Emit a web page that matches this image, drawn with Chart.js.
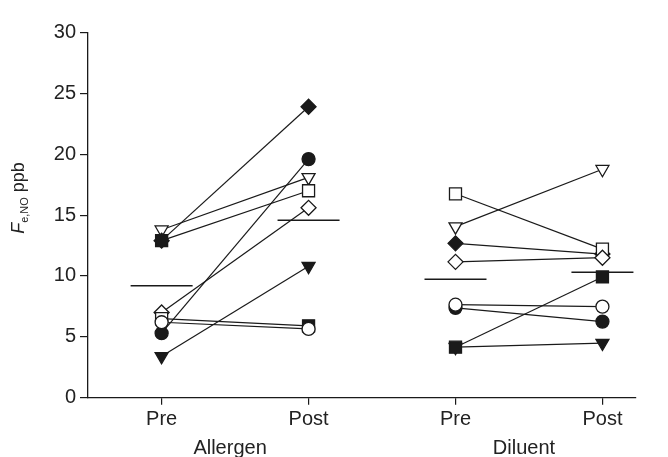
<!DOCTYPE html>
<html>
<head>
<meta charset="utf-8">
<script src="https://cdn.jsdelivr.net/npm/chart.js@4/dist/chart.umd.min.js"></script>
<style>
  html, body { margin: 0; padding: 0; background: #fff; }
  #wrap { width: 668px; height: 457px; }
</style>
</head>
<body>
<div id="wrap"><canvas id="c" width="668" height="457"></canvas></div>
<script>
// ---- data ----
const tickLabels = ['Pre', 'Post', 'Pre', 'Post'];
const groupLabels = ['Allergen', 'Diluent'];
const subjects = ['open circle', 'filled square', 'open diamond', 'open square', 'filled diamond', 'filled circle', 'open down-triangle', 'filled down-triangle'];
const allergenPre  = [6.2, 6.5, 7.0, 12.9, 12.9, 5.3, 13.8, 3.4];
const allergenPost = [5.65, 5.9, 15.6, 17.0, 23.9, 19.6, 18.1, 10.8];
const diluentPre   = [7.64, 4.15, 11.16, 16.75, 12.68, 7.38, 14.05, 4.15];
const diluentPost  = [7.48, 9.92, 11.5, 12.2, 11.8, 6.25, 18.77, 4.49];
const means        = [9.19, 14.57, 9.74, 10.3];
const yTicks       = [0, 5, 10, 15, 20, 25, 30];

// ---- styles ----
const INK = '#1a1a1a';
const TXT = '#222222';
const FONT = "'Liberation Sans', Arial, Helvetica, sans-serif";
const markerStyle = [
  { style: 'circle',   r: 6.5, rot: 0,   fill: ['#fff', '#fff', '#fff', '#fff'] },
  { style: 'rect',     r: 8.5, rot: 0,   fill: ['#fff', INK, INK, INK] },
  { style: 'rectRot',  r: 7.5, rot: 0,   fill: ['#fff', '#fff', '#fff', '#fff'] },
  { style: 'rect',     r: 8.5, rot: 0,   fill: [INK, '#fff', '#fff', '#fff'] },
  { style: 'rectRot',  r: 7.5, rot: 0,   fill: [INK, INK, INK, INK] },
  { style: 'circle',   r: 6.5, rot: 0,   fill: [INK, INK, INK, INK] },
  { style: 'triangle', r: 7.5, rot: 180, fill: ['#fff', '#fff', '#fff', '#fff'] },
  { style: 'triangle', r: 7.5, rot: 180, fill: [INK, INK, INK, INK] }
];

const datasets = [];
subjects.forEach((name, i) => {
  const pts = [
    { x: 1, y: allergenPre[i] },
    { x: 2, y: allergenPost[i] },
    { x: 3, y: diluentPre[i] },
    { x: 4, y: diluentPost[i] }
  ];
  // connecting lines (drawn behind all markers)
  datasets.push({
    label: name + ' line',
    data: pts,
    showLine: true,
    pointRadius: 0,
    borderColor: INK,
    borderWidth: 1.2,
    segment: { borderColor: ctx => ctx.p0DataIndex === 1 ? 'rgba(0,0,0,0)' : INK },
    order: 100
  });
  const m = markerStyle[i];
  datasets.push({
    label: name,
    data: pts,
    showLine: false,
    pointStyle: m.style,
    pointRadius: m.r,
    rotation: m.rot,
    pointBackgroundColor: m.fill,
    pointBorderColor: INK,
    pointBorderWidth: 1.3,
    order: 10 + i
  });
});
datasets.push({
  label: 'mean',
  data: means.map((v, k) => ({ x: k + 1, y: v })),
  showLine: false,
  pointStyle: 'line',
  pointRadius: 31,
  pointBorderColor: INK,
  pointBorderWidth: 1.5,
  order: 50
});

const extraText = {
  id: 'extraText',
  afterDraw(chart) {
    const ctx = chart.ctx;
    const xs = chart.scales.x;
    ctx.save();
    ctx.fillStyle = TXT;
    ctx.font = '20px ' + FONT;
    ctx.textAlign = 'center';
    ctx.textBaseline = 'alphabetic';
    groupLabels.forEach((g, k) => {
      const cx = (xs.getPixelForValue(2 * k + 1) + xs.getPixelForValue(2 * k + 2)) / 2 - 5;
      ctx.fillText(g, cx, 454);
    });
    // y-axis title: F(italic) subscript "e,NO" then " ppb"
    ctx.translate(24, 198);
    ctx.rotate(-Math.PI / 2);
    const partF = { t: 'F', f: 'italic 18px ' + FONT, dy: 0 };
    const partS = { t: 'e,NO', f: '11px ' + FONT, dy: 4 };
    const partP = { t: ' ppb', f: '18px ' + FONT, dy: 0 };
    const parts = [partF, partS, partP];
    let total = 0;
    parts.forEach(p => { ctx.font = p.f; p.w = ctx.measureText(p.t).width; total += p.w; });
    let x = -total / 2;
    ctx.textAlign = 'left';
    parts.forEach(p => { ctx.font = p.f; ctx.fillText(p.t, x, p.dy); x += p.w; });
    ctx.restore();
  }
};

new Chart(document.getElementById('c'), {
  type: 'scatter',
  data: { datasets },
  options: {
    responsive: false,
    devicePixelRatio: 1,
    animation: false,
    layout: { padding: { top: 17, left: 0, right: 0, bottom: 0 } },
    plugins: { legend: { display: false }, tooltip: { enabled: false } },
    scales: {
      x: {
        type: 'linear',
        min: 0.499,
        max: 4.225,
        afterBuildTicks: s => { s.ticks = tickLabels.map((_, k) => ({ value: k + 1 })); },
        afterFit: s => { s.height = 59.3; },
        ticks: {
          callback: (v) => tickLabels[Math.round(v) - 1],
          color: TXT,
          font: { family: FONT, size: 20 },
          padding: 3,
          maxRotation: 0,
          autoSkip: false
        },
        grid: { drawOnChartArea: false, drawTicks: true, tickLength: 7, color: INK, lineWidth: 1.2 },
        border: { display: true, color: INK, width: 1.3 }
      },
      y: {
        type: 'linear',
        min: 0,
        max: 30,
        afterBuildTicks: s => { s.ticks = yTicks.map(v => ({ value: v })); },
        afterFit: s => { s.width = 88; },
        ticks: {
          color: TXT,
          font: { family: FONT, size: 20 },
          padding: 4
        },
        grid: { drawOnChartArea: false, drawTicks: true, tickLength: 8, color: INK, lineWidth: 1.2 },
        border: { display: true, color: INK, width: 1.3 }
      }
    }
  },
  plugins: [extraText]
});
</script>
</body>
</html>
